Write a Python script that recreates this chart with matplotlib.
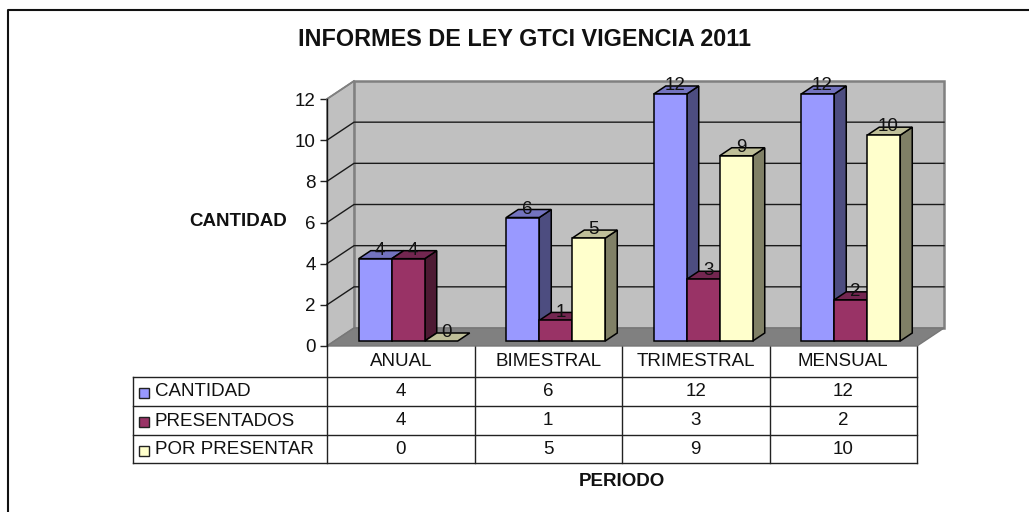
import numpy as np
import matplotlib
matplotlib.use("Agg")
import matplotlib.pyplot as plt
from matplotlib.patches import Polygon, Rectangle

plt.rcParams['font.family'] = ['Liberation Sans', 'DejaVu Sans']

# ------DATA-------
periodos = ["ANUAL", "BIMESTRAL", "TRIMESTRAL", "MENSUAL"]
series = ["CANTIDAD", "PRESENTADOS", "POR PRESENTAR"]
cantidad = [4, 6, 12, 12]
presentados = [4, 1, 3, 2]
por_presentar = [0, 5, 9, 10]
y_ticks = [0, 2, 4, 6, 8, 10, 12]

valores = [cantidad, presentados, por_presentar]
front = ["#9999FF", "#993366", "#FFFFCC"]
side = ["#4D4D80", "#4D1A33", "#808066"]
top = ["#7373BF", "#732650", "#BFBF99"]

# ------LAYOUT (pixels)-------
W, H = 1029, 512
X0, X1, Y0, Y12 = 327, 917, 346, 99
FS = 13.5
fig = plt.figure(figsize=(W / 100, H / 100), dpi=100, facecolor="white")

# page layer in pixel coordinates: frame, table, titles
page = fig.add_axes([0, 0, 1, 1])
page.set_xlim(0, W)
page.set_ylim(H, 0)
page.axis("off")

# chart axes sits on the front plane of the 3d box
ax = fig.add_axes([X0 / W, 1 - Y0 / H, (X1 - X0) / W, (Y0 - Y12) / H])
ax.set_xlim(0, len(periodos))
ax.set_ylim(0, max(y_ticks))
ax.patch.set_alpha(0)
for s in ax.spines.values():
    s.set_visible(False)
ax.set_xticks([])
ax.set_yticks(y_ticks)
ax.tick_params(axis="y", length=5, width=1, color="#222222", labelsize=FS, labelcolor="#111111", pad=3)
ax.plot([0, 0], [0, 12], color="#111111", lw=1, clip_on=False, zorder=6)

# depth of the box, in data units
DX = 27 / ((X1 - X0) / len(periodos))
DY = 18 / ((Y0 - Y12) / max(y_ticks))


def depth(x, y, d):
    return (x + d * DX, y + d * DY)


# walls and floor
n = len(periodos)
ymax = max(y_ticks)
ax.add_patch(Polygon([depth(0, 0, 1), depth(n, 0, 1), depth(n, ymax, 1), depth(0, ymax, 1)],
                     fc="#C0C0C0", ec="#808080", lw=1.8, clip_on=False, zorder=1))
ax.add_patch(Polygon([(0, 0), depth(0, 0, 1), depth(0, ymax, 1), (0, ymax)],
                     fc="#C0C0C0", ec="#808080", lw=1.2, clip_on=False, zorder=1))
ax.add_patch(Polygon([(0, 0), (n, 0), depth(n, 0, 1), depth(0, 0, 1)],
                     fc="#808080", ec="#777777", lw=1, clip_on=False, zorder=2))
for t in y_ticks[1:-1]:
    xb, yb = depth(0, t, 1)
    ax.plot([0, xb, depth(n, 0, 1)[0]], [t, yb, yb], color="#1A1A1A", lw=1,
            clip_on=False, zorder=2)
ax.plot([0, DX], [ymax, ymax + DY], color="#808080", lw=1.2, clip_on=False, zorder=2)

# bars
bar_w = 33 / ((X1 - X0) / n)
d_front = 5 / 18
d_back = 13 / 18
z = 3.0
for g in range(n):
    for k in range(len(series)):
        v = valores[k][g]
        x_left = g + 0.5 - 1.5 * bar_w + (k * bar_w)
        xa, ya = depth(x_left, 0, d_front)
        xb = xa + bar_w
        ddx = (d_back - d_front) * DX
        ddy = (d_back - d_front) * DY
        if v > 0:
            ax.add_patch(Polygon([(xb, ya), (xb + ddx, ya + ddy), (xb + ddx, ya + v + ddy), (xb, ya + v)],
                                 fc=side[k], ec="black", lw=1.1, clip_on=False, zorder=z))
        ax.add_patch(Polygon([(xa, ya + v), (xb, ya + v), (xb + ddx, ya + v + ddy), (xa + ddx, ya + v + ddy)],
                             fc=top[k], ec="black", lw=1.1, clip_on=False, zorder=z))
        if v > 0:
            ax.bar(xa, v, bar_w, bottom=ya, align="edge", color=front[k], edgecolor="black",
                   linewidth=1.1, clip_on=False, zorder=z)
        ax.text(xa + bar_w / 2 + ddx * 0.4, ya + v + ddy * 1.05, str(v), ha="center", va="center",
                fontsize=FS, color="#111111", clip_on=False, zorder=50)
        z += 0.01

# frame, open on the right and bottom like the original crop
page.plot([7.5, 7.5, W], [H, 10, 10], color="#111111", lw=1.5)

# ------TABLE-------
col_w = (X1 - X0) / n
row_y = [376.5, 406, 435, 463]
page.plot([X0, X0], [Y0, row_y[-1]], color="#222222", lw=1)
for i in range(1, n + 1):
    page.plot([X0 + i * col_w] * 2, [Y0, row_y[-1]], color="#222222", lw=1)
for r in row_y:
    page.plot([132.5, X1], [r, r], color="#222222", lw=1)
page.plot([132.5, 132.5], [row_y[0], row_y[-1]], color="#222222", lw=1)

for i, p in enumerate(periodos):
    page.text(X0 + (i + 0.5) * col_w, 361, p, ha="center", va="center", fontsize=FS, color="#111111")
for k, name in enumerate(series):
    yc = (row_y[k] + row_y[k + 1]) / 2
    page.add_patch(Rectangle((138.5, yc - 3.5), 10, 10, fc=front[k], ec="#222222", lw=1))
    page.text(155, yc + 0.5, name, ha="left", va="center", fontsize=FS, color="#111111")
    for i in range(n):
        page.text(X0 + (i + 0.5) * col_w, yc, str(valores[k][i]), ha="center", va="center",
                  fontsize=FS, color="#111111")

# ------TITLES-------
page.text(525, 39, "INFORMES DE LEY GTCI VIGENCIA 2011", ha="center", va="center",
          fontsize=16.8, fontweight="bold", color="#111111")
page.text(238, 222, "CANTIDAD", ha="center", va="center", fontsize=13.5, fontweight="bold", color="#111111")
page.text(622, 481, "PERIODO", ha="center", va="center", fontsize=13.5, fontweight="bold", color="#111111")

fig.savefig("out.png", dpi=100)
